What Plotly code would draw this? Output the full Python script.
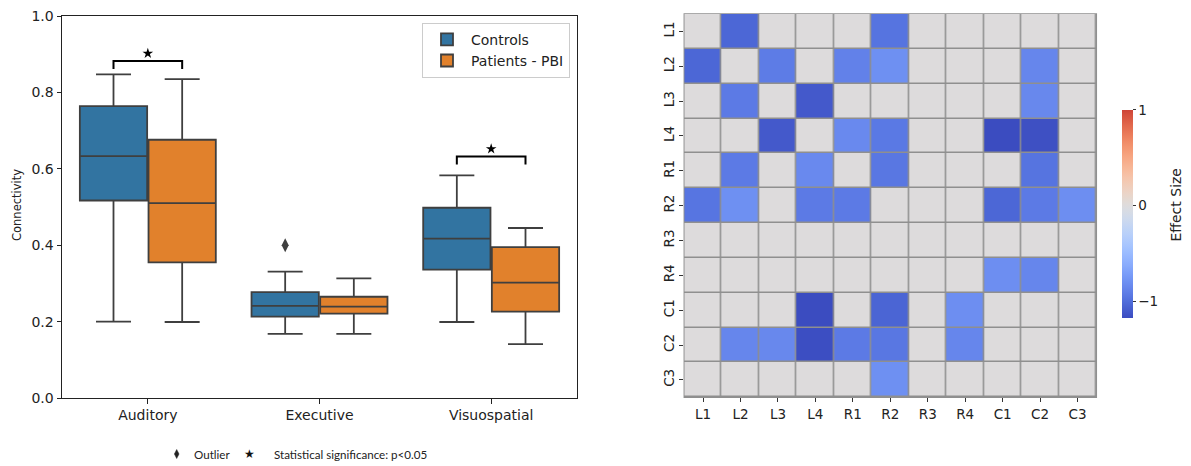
import numpy as np
import plotly.graph_objects as go

# ---------------- data ----------------
categories = ["Auditory", "Executive", "Visuospatial"]
groups = ["Controls", "Patients - PBI"]

ctrl_lo = [0.200, 0.168, 0.199]
ctrl_q1 = [0.517, 0.213, 0.336]
ctrl_med = [0.633, 0.241, 0.417]
ctrl_q3 = [0.764, 0.277, 0.498]
ctrl_hi = [0.847, 0.331, 0.583]

pat_lo = [0.199, 0.168, 0.141]
pat_q1 = [0.355, 0.221, 0.226]
pat_med = [0.510, 0.239, 0.302]
pat_q3 = [0.676, 0.265, 0.395]
pat_hi = [0.835, 0.313, 0.445]

outlier_cat = ["Executive"]
outlier_group = ["Controls"]
outlier_val = [0.400]

sig_cats = ["Auditory", "Visuospatial"]
sig_height = [0.882, 0.632]

regions = ["L1", "L2", "L3", "L4", "R1", "R2", "R3", "R4", "C1", "C2", "C3"]
effect = [
    [0, -1.03, 0, 0, 0, -0.96, 0, 0, 0, 0, 0],
    [-1.03, 0, -0.91, 0, -0.88, -0.79, 0, 0, 0, -0.85, 0],
    [0, -0.92, 0, -1.10, 0, 0, 0, 0, 0, -0.84, 0],
    [0, 0, -1.10, 0, -0.83, -0.93, 0, 0, -1.17, -1.15, 0],
    [0, -0.92, 0, -0.83, 0, -0.94, 0, 0, 0, -0.96, 0],
    [-0.95, -0.79, 0, -0.92, -0.92, 0, 0, 0, -1.03, -0.92, -0.80],
    [0, 0, 0, 0, 0, 0, 0, 0, 0, 0, 0],
    [0, 0, 0, 0, 0, 0, 0, 0, -0.80, -0.85, 0],
    [0, 0, 0, -1.17, 0, -1.04, 0, -0.80, 0, 0, 0],
    [0, -0.85, -0.84, -1.16, -0.92, -0.94, 0, -0.85, 0, 0, 0],
    [0, 0, 0, 0, 0, -0.79, 0, 0, 0, 0, 0],
]
effect_max = 1.0
colorbar_ticks = [-1, 0, 1]

# ---------------- style ----------------
W, H = 1191, 466
C_BLUE = "#3274a1"
C_ORANGE = "#e1812c"
LINE = "#3f3f3f"
FONT = "DejaVu Sans"

def px(x):
    return x / W

def py(y):
    return 1 - y / H

# coolwarm table (Moreland)
cw = [
    (59, 76, 192), (68, 90, 204), (77, 104, 215), (87, 117, 225), (98, 130, 234),
    (108, 142, 241), (119, 154, 247), (130, 165, 251), (141, 176, 254), (152, 185, 255),
    (163, 194, 255), (174, 201, 253), (184, 208, 249), (194, 213, 244), (204, 217, 238),
    (213, 219, 230), (221, 221, 221), (229, 216, 209), (236, 211, 197), (241, 204, 184),
    (245, 196, 171), (247, 187, 157), (247, 177, 143), (247, 166, 130), (244, 154, 117),
    (241, 141, 105), (236, 127, 93), (229, 112, 81), (222, 96, 71), (213, 80, 61),
    (203, 62, 52), (192, 40, 44), (180, 4, 38),
]
cw = np.array(cw, dtype=float)
cw_pos = np.linspace(0, 1, len(cw))

def coolwarm(f):
    return [np.interp(f, cw_pos, cw[:, k]) for k in range(3)]

z = np.array(effect)
zmin = float(z.min())
zmax = effect_max
vrange = max(zmax, -zmin)
colorscale = []
for p in np.linspace(0, 1, 41):
    v = zmin + p * (zmax - zmin)
    f = 0.5 + v / (2 * vrange)
    r, g, b = coolwarm(f)
    colorscale.append([float(p), f"rgb({r:.0f},{g:.0f},{b:.0f})"])

fig = go.Figure()

# ---------------- boxes ----------------
offsets = [-0.2, 0.2]
stats = [
    (ctrl_lo, ctrl_q1, ctrl_med, ctrl_q3, ctrl_hi, C_BLUE),
    (pat_lo, pat_q1, pat_med, pat_q3, pat_hi, C_ORANGE),
]
for gi, (lo, q1, med, q3, hi, col) in enumerate(stats):
    fig.add_trace(go.Box(
        x=[i + offsets[gi] for i in range(len(categories))],
        lowerfence=lo, q1=q1, median=med, q3=q3, upperfence=hi,
        width=0.392, whiskerwidth=0.52,
        fillcolor=col, line=dict(color=LINE, width=1.8),
        boxpoints=False, name=groups[gi], hoverinfo="skip",
        xaxis="x", yaxis="y",
    ))

# outliers
fig.add_trace(go.Scatter(
    x=[categories.index(c) + offsets[groups.index(g)] for c, g in zip(outlier_cat, outlier_group)],
    y=outlier_val, mode="markers",
    marker=dict(symbol="diamond-tall", size=10, color=LINE),
    showlegend=False, hoverinfo="skip", xaxis="x", yaxis="y",
))

# significance brackets
drop = 0.021
for c, h in zip(sig_cats, sig_height):
    i = categories.index(c)
    xa, xb = i + offsets[0], i + offsets[1]
    fig.add_trace(go.Scatter(
        x=[xa, xa, xb, xb], y=[h - drop, h, h, h - drop], mode="lines",
        line=dict(color="black", width=2), showlegend=False, hoverinfo="skip",
        xaxis="x", yaxis="y",
    ))
    fig.add_trace(go.Scatter(
        x=[i], y=[h + 0.02], mode="markers",
        marker=dict(symbol="star", size=8, color="black"),
        showlegend=False, hoverinfo="skip", xaxis="x", yaxis="y",
    ))

# ---------------- heatmap ----------------
fig.add_trace(go.Heatmap(
    z=z, x=regions, y=regions, zmin=zmin, zmax=zmax, colorscale=colorscale,
    xgap=1.5, ygap=1.5, xaxis="x2", yaxis="y2", hoverinfo="skip",
    colorbar=dict(
        x=px(1122), xanchor="left", y=py(213.85), yanchor="middle",
        len=207.7 / H, lenmode="fraction", thickness=11, ypad=0, xpad=0,
        outlinewidth=0, tickvals=colorbar_ticks, ticks="outside", ticklen=3,
        tickcolor="#333", tickfont=dict(family=FONT, size=13.5, color="#222"),
    ),
))

axis_font = dict(family=FONT, size=14, color="#222")
fig.update_layout(
    template="none",
    width=W, height=H, margin=dict(l=0, r=0, t=0, b=0, pad=0, autoexpand=False),
    paper_bgcolor="white", plot_bgcolor="white",
    font=dict(family=FONT, color="#222"),
    xaxis=dict(
        domain=[px(62), px(577)], range=[-0.5, 2.5], automargin=False,
        tickvals=list(range(len(categories))), ticktext=categories,
        showgrid=False, zeroline=False, showline=True, mirror=True,
        linecolor="#222", linewidth=1, ticks="outside", ticklen=4.5,
        tickcolor="#222", tickfont=axis_font,
    ),
    yaxis=dict(
        domain=[py(398), py(16)], range=[0, 1], dtick=0.2, tickformat=".1f",
        automargin=False,
        showgrid=False, zeroline=False, showline=True, mirror=True,
        linecolor="#222", linewidth=1, ticks="outside", ticklen=4.5,
        tickcolor="#222", tickfont=axis_font,
    ),
    xaxis2=dict(
        domain=[px(684.3), px(1096.3)], anchor="y2", automargin=False,
        showgrid=False, zeroline=False, showline=False,
        ticks="outside", ticklen=4, tickcolor="#333",
        tickfont=dict(family=FONT, size=13.5, color="#222"),
    ),
    yaxis2=dict(
        domain=[py(397.3), py(14)], anchor="x2", autorange="reversed", automargin=False,
        showgrid=False, zeroline=False, showline=False,
        ticks="outside", ticklen=4, tickcolor="#333", tickangle=-90,
        tickfont=dict(family=FONT, size=13.5, color="#222"),
    ),
    legend=dict(
        x=px(570), xanchor="right", y=py(22.7), yanchor="top",
        bgcolor="white", bordercolor="#cccccc", borderwidth=1, itemwidth=38,
        font=dict(family=FONT, size=14, color="#222"),
    ),
    showlegend=True,
)

# grey grid behind heatmap bricks
fig.add_shape(type="rect", xref="x2 domain", yref="y2 domain", x0=0, x1=1, y0=0, y1=1,
              fillcolor="#8f8f8f", line=dict(color="#8f8f8f", width=1.5), layer="below")

# axis title (left)
fig.add_annotation(text="Connectivity", x=px(17), y=py(205), xref="paper", yref="paper",
                   xanchor="center", yanchor="middle",
                   showarrow=False, textangle=-90, font=dict(family=FONT, size=11.5, color="#222"))

# colorbar title
fig.add_annotation(text="Effect Size", x=px(1175), y=py(205.5), xref="paper", yref="paper",
                   xanchor="center", yanchor="middle",
                   showarrow=False, textangle=-90, font=dict(family=FONT, size=14, color="#222"))

# bottom legend
cx, cy = 176.7, 454
fig.add_shape(type="path", xref="paper", yref="paper",
              path=f"M {px(cx)},{py(cy-4.5)} L {px(cx+2.3)},{py(cy)} L {px(cx)},{py(cy+4.5)} L {px(cx-2.3)},{py(cy)} Z",
              fillcolor="#222", line=dict(color="#222", width=0.5))
small = dict(family="Lato", size=11.6, color="#222")
fig.add_annotation(text="Outlier", x=px(191.7), y=py(cy), xref="paper", yref="paper",
                   xanchor="left", yanchor="middle", showarrow=False, font=small)
fig.add_annotation(text="★", x=px(249), y=py(cy), xref="paper", yref="paper",
                   xanchor="center", yanchor="middle",
                   showarrow=False, font=dict(family=FONT, size=12, color="#111"))
fig.add_annotation(text="Statistical significance: p<0.05", x=px(271.7), y=py(cy), xref="paper",
                   yref="paper", xanchor="left", yanchor="middle", showarrow=False, font=small)

fig.write_html("out.html")
